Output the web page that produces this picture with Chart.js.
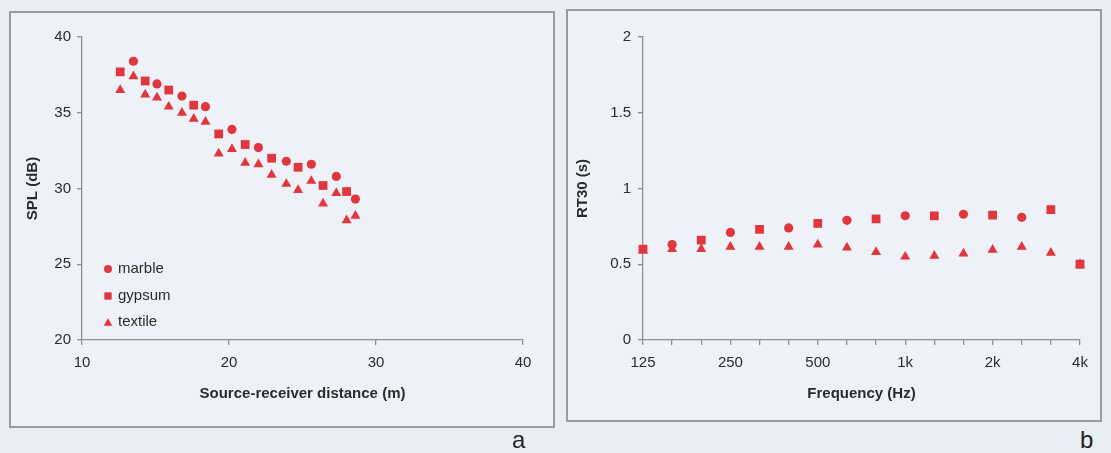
<!DOCTYPE html>
<html><head><meta charset="utf-8">
<script src="https://cdn.jsdelivr.net/npm/chart.js@4.4.1/dist/chart.umd.min.js"></script>
<style>
html,body{margin:0;padding:0;background:#e9eef5;width:1111px;height:453px;overflow:hidden;font-family:"Liberation Sans",Arial,sans-serif;}
.panel{position:absolute;border:2px solid #979da8;background:#eef2f8;box-sizing:border-box;}
canvas{position:absolute;}
.lbl{position:absolute;font-size:24px;color:#222;line-height:24px;}
</style></head><body>
<div class="panel" style="left:9px;top:11px;width:546px;height:417px"></div>
<div class="panel" style="left:566px;top:9px;width:536px;height:413px"></div>
<canvas id="c1" width="544" height="415" style="left:10px;top:12px"></canvas>
<canvas id="c2" width="534" height="411" style="left:567px;top:10px"></canvas>
<div class="lbl" style="left:512px;top:428px">a</div>
<div class="lbl" style="left:1080px;top:428px">b</div>
<script>
// ---- Chart a: SPL vs source-receiver distance ----
const marbleX  = [13.5, 15.1, 16.8, 18.4, 20.2, 22.0, 23.9, 25.6, 27.3, 28.6];
const marbleY  = [38.4, 36.9, 36.1, 35.4, 33.9, 32.7, 31.8, 31.6, 30.8, 29.3];
const gypsumX  = [12.6, 14.3, 15.9, 17.6, 19.3, 21.1, 22.9, 24.7, 26.4, 28.0];
const gypsumY  = [37.7, 37.1, 36.5, 35.5, 33.6, 32.9, 32.0, 31.4, 30.2, 29.8];
const textileX = [12.6, 13.5, 14.3, 15.1, 15.9, 16.8, 17.6, 18.4, 19.3, 20.2, 21.1, 22.0, 22.9, 23.9, 24.7, 25.6, 26.4, 27.3, 28.0, 28.6];
const textileY = [36.5, 37.4, 36.2, 36.0, 35.4, 35.0, 34.6, 34.4, 32.3, 32.6, 31.7, 31.6, 30.9, 30.3, 29.9, 30.5, 29.0, 29.7, 27.9, 28.2];
const seriesNames = ['marble', 'gypsum', 'textile'];

// ---- Chart b: RT30 vs frequency ----
const freqLabels = ['125','160','200','250','315','400','500','630','800','1k','1.25k','1.6k','2k','2.5k','3.15k','4k'];
const rtMarble  = [null, 0.63, null, 0.71, null, 0.74, null, 0.79, null, 0.82, null, 0.83, null, 0.81, null, null];
const rtGypsum  = [0.60, null, 0.66, null, 0.73, null, 0.77, null, 0.80, null, 0.82, null, 0.825, null, 0.86, 0.50];
const rtTextile = [0.59, 0.60, 0.60, 0.615, 0.615, 0.615, 0.63, 0.61, 0.58, 0.55, 0.555, 0.57, 0.595, 0.615, 0.575, 0.50];

const RED = '#e0363d';
const AXIS = '#8a909a';
const TXT = '#2b2b2b';
const FONT = '"Liberation Sans", Arial, sans-serif';
const styles = [
  {pointStyle:'circle', radius:4.6, legendR:4},
  {pointStyle:'rect', radius:6.2, legendR:5.2},
  {pointStyle:'triangle', radius:5.8, legendR:5}
];

function pts(xs, ys){ return xs.map((x,i)=>({x:x, y:ys[i]})); }

const legendPlugin = {
  id:'innerLegend',
  afterDraw(chart, args, opts){
    if(!opts.show) return;
    const ctx = chart.ctx, ca = chart.chartArea;
    ctx.save();
    chart.data.datasets.forEach((ds,i)=>{
      const y = ca.bottom - opts.bottomOffsets[i];
      const x = ca.left + opts.left;
      ctx.fillStyle = RED; ctx.strokeStyle = RED; ctx.lineWidth = 0;
      Chart.helpers.drawPoint(ctx, {pointStyle: styles[i].pointStyle, radius: styles[i].legendR, borderWidth:0}, x, y + (i===2?1.2:0));
      ctx.fillStyle = TXT;
      ctx.font = '15px ' + FONT;
      ctx.textBaseline = 'middle';
      ctx.textAlign = 'left';
      ctx.fillText(ds.label, x + 10, y);
    });
    ctx.restore();
  }
};

function dsStyle(i){
  return {pointStyle: styles[i].pointStyle, pointRadius: styles[i].radius, pointHoverRadius: styles[i].radius,
          backgroundColor: RED, borderColor: RED, pointBorderWidth: 0, showLine:false};
}

function axisCommon(){
  return {
    border:{display:true, color:AXIS, width:1.3},
    grid:{display:true, drawOnChartArea:false, drawTicks:true, tickLength:5, color:AXIS, lineWidth:1.3},
  };
}

Chart.defaults.font.family = FONT;
Chart.defaults.color = TXT;

new Chart(document.getElementById('c1'), {
  type:'scatter',
  data:{datasets:[
    Object.assign({label:seriesNames[0], data:pts(marbleX, marbleY)}, dsStyle(0)),
    Object.assign({label:seriesNames[1], data:pts(gypsumX, gypsumY)}, dsStyle(1)),
    Object.assign({label:seriesNames[2], data:pts(textileX, textileY)}, dsStyle(2))
  ]},
  plugins:[legendPlugin],
  options:{
    responsive:false, animation:false,
    layout:{padding:{top:25, right:31, left:0, bottom:0}},
    plugins:{legend:{display:false}, tooltip:{enabled:false},
      innerLegend:{show:true, left:26, bottomOffsets:[71,44,18]}},
    scales:{
      x:Object.assign(axisCommon(), {type:'linear', min:10, max:40,
        ticks:{stepSize:10, padding:9, font:{size:15}, color:TXT},
        title:{display:true, text:'Source-receiver distance (m)', font:{size:15, weight:'bold'}, color:TXT, padding:{top:0, bottom:24}},
        afterFit(s){ s.height = 87; }}),
      y:Object.assign(axisCommon(), {type:'linear', min:20, max:40,
        ticks:{stepSize:5, padding:6, font:{size:15}, color:TXT},
        title:{display:true, text:'SPL (dB)', font:{size:15, weight:'bold'}, color:TXT, padding:{top:14, bottom:0}},
        afterFit(s){ s.width = 72; }})
    }
  }
});

new Chart(document.getElementById('c2'), {
  type:'line',
  data:{labels:freqLabels, datasets:[
    Object.assign({label:seriesNames[0], data:rtMarble}, dsStyle(0)),
    Object.assign({label:seriesNames[1], data:rtGypsum}, dsStyle(1)),
    Object.assign({label:seriesNames[2], data:rtTextile}, dsStyle(2))
  ]},
  options:{
    responsive:false, animation:false,
    layout:{padding:{top:27, right:21, left:0, bottom:0}},
    plugins:{legend:{display:false}, tooltip:{enabled:false}},
    scales:{
      x:Object.assign(axisCommon(), {type:'category', offset:false,
        ticks:{autoSkip:false, maxRotation:0, padding:9, font:{size:15}, color:TXT,
          callback(v, idx){ return idx % 3 === 0 ? freqLabels[idx] : ''; }},
        title:{display:true, text:'Frequency (Hz)', font:{size:15, weight:'bold'}, color:TXT, padding:{top:0, bottom:18}},
        afterFit(s){ s.height = 81; }}),
      y:Object.assign(axisCommon(), {type:'linear', min:0, max:2,
        ticks:{stepSize:0.5, padding:7, font:{size:15}, color:TXT,
          callback(v){ return String(Math.round(v*10)/10); }},
        title:{display:true, text:'RT30 (s)', font:{size:15, weight:'bold'}, color:TXT, padding:{top:7, bottom:0}},
        afterFit(s){ s.width = 76; }})
    }
  }
});
</script>
</body></html>
